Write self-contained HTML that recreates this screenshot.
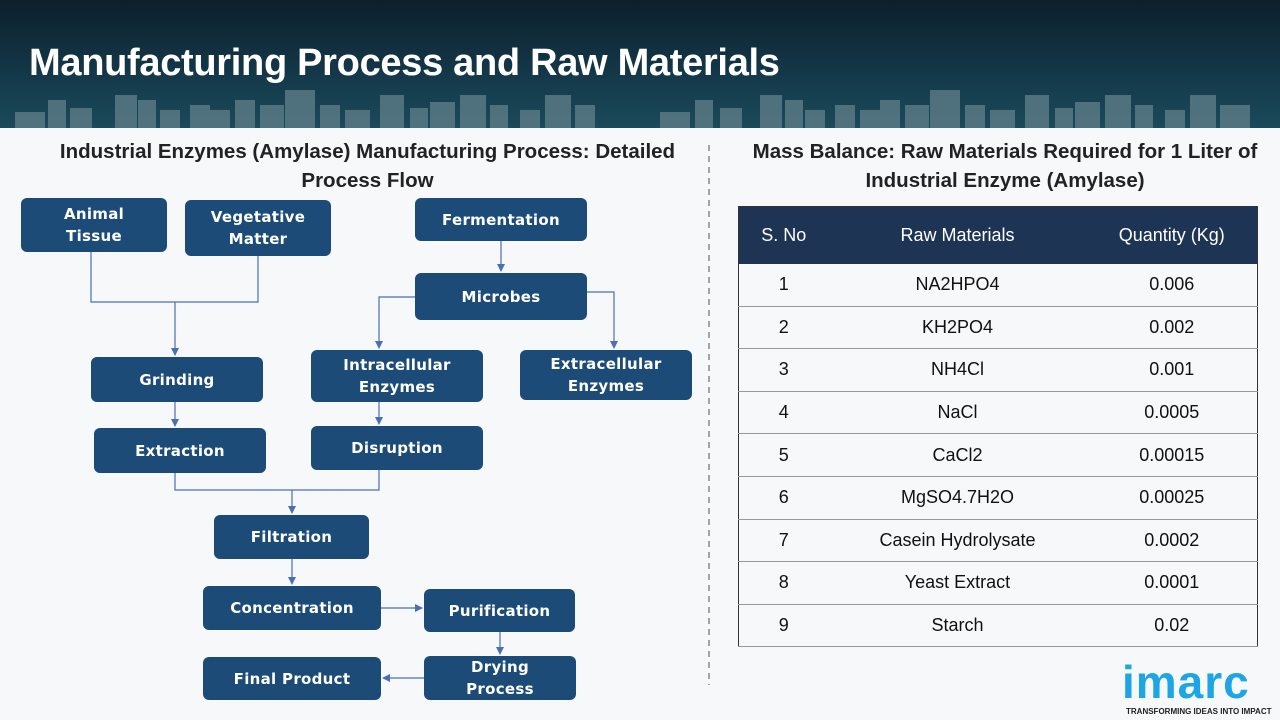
<!DOCTYPE html>
<html><head><meta charset="utf-8"><style>
*{margin:0;padding:0;box-sizing:border-box}
body{width:1280px;height:720px;position:relative;overflow:hidden;background:#f6f8fa;font-family:"Liberation Sans",sans-serif}
.hdr{position:absolute;left:0;top:0;width:1280px;height:128px;background:linear-gradient(180deg,#0d1f2b 0%,#14394a 60%,#1b4a5a 100%)}
.hdr h1{position:absolute;left:29px;top:42px;color:#fff;font-size:38px;font-weight:bold;letter-spacing:-0.3px}
.n{position:absolute;background:#1d4b78;color:#fff;border-radius:6px;font-weight:bold;display:flex;align-items:center;justify-content:center;text-align:center;line-height:22px;letter-spacing:0.3px;font-family:"DejaVu Sans","Liberation Sans",sans-serif;font-size:15px}
.st{position:absolute;text-align:center;font-weight:bold;font-size:20.5px;color:#222;line-height:29px}
table{position:absolute;left:738px;top:206px;width:520px;border-collapse:collapse;font-size:18px;color:#111}
th{background:#1d3454;color:#fff;font-weight:normal;height:57px;font-size:18px}
td{height:42.6px;text-align:center;border-bottom:1px solid #999}
table{border:1px solid #333}
</style></head><body>
<div class="hdr">
<svg width="1280" height="128" style="position:absolute;left:0;top:0" fill="#5d7d88" opacity="0.8">
<rect x="15" y="112" width="30" height="16"/><rect x="48" y="100" width="18" height="28"/><rect x="70" y="108" width="22" height="20"/><rect x="115" y="95" width="22" height="33"/><rect x="138" y="100" width="18" height="28"/><rect x="160" y="110" width="20" height="18"/><rect x="190" y="105" width="20" height="23"/><rect x="208" y="110" width="22" height="18"/><rect x="235" y="100" width="20" height="28"/><rect x="260" y="105" width="24" height="23"/><rect x="285" y="90" width="30" height="38"/><rect x="320" y="105" width="20" height="23"/><rect x="345" y="110" width="25" height="18"/><rect x="380" y="95" width="24" height="33"/><rect x="410" y="108" width="18" height="20"/><rect x="430" y="102" width="25" height="26"/><rect x="460" y="95" width="26" height="33"/><rect x="490" y="105" width="18" height="23"/><rect x="520" y="110" width="20" height="18"/><rect x="545" y="95" width="26" height="33"/><rect x="575" y="105" width="20" height="23"/>
<rect x="660" y="112" width="30" height="16"/><rect x="695" y="100" width="18" height="28"/><rect x="720" y="108" width="22" height="20"/><rect x="760" y="95" width="22" height="33"/><rect x="785" y="100" width="18" height="28"/><rect x="805" y="110" width="20" height="18"/><rect x="835" y="105" width="20" height="23"/><rect x="860" y="110" width="22" height="18"/><rect x="880" y="100" width="20" height="28"/><rect x="905" y="105" width="24" height="23"/><rect x="930" y="90" width="30" height="38"/><rect x="965" y="105" width="20" height="23"/><rect x="990" y="110" width="25" height="18"/><rect x="1025" y="95" width="24" height="33"/><rect x="1055" y="108" width="18" height="20"/><rect x="1075" y="102" width="25" height="26"/><rect x="1105" y="95" width="26" height="33"/><rect x="1135" y="105" width="18" height="23"/><rect x="1165" y="110" width="20" height="18"/><rect x="1190" y="95" width="26" height="33"/><rect x="1220" y="105" width="30" height="23"/>
</svg>
<h1>Manufacturing Process and Raw Materials</h1>
</div>
<div class="st" style="left:30px;top:137px;width:675px">Industrial Enzymes (Amylase) Manufacturing Process: Detailed<br>Process Flow</div>
<div class="st" style="left:730px;top:137px;width:550px">Mass Balance: Raw Materials Required for 1 Liter of<br>Industrial Enzyme (Amylase)</div>
<svg width="1280" height="720" style="position:absolute;left:0;top:0">
<defs><marker id="a" markerWidth="8" markerHeight="8" refX="7" refY="4" orient="auto" markerUnits="userSpaceOnUse"><path d="M0,0L8,4L0,8z" fill="#4a6fb5"/></marker></defs>
<g stroke="#4a6fb5" stroke-width="1.2" fill="none">
<path d="M91,252V302H258V256"/><path d="M175,302V355" marker-end="url(#a)"/>
<path d="M501,241V271" marker-end="url(#a)"/>
<path d="M415,297H379V348" marker-end="url(#a)"/>
<path d="M587,292H614V348" marker-end="url(#a)"/>
<path d="M175,402V426" marker-end="url(#a)"/>
<path d="M379,402V424" marker-end="url(#a)"/>
<path d="M175,473V490H379V470"/><path d="M292,490V513" marker-end="url(#a)"/>
<path d="M292,559V584" marker-end="url(#a)"/>
<path d="M381,608H422" marker-end="url(#a)"/>
<path d="M500,632V654" marker-end="url(#a)"/>
<path d="M424,678H383" marker-end="url(#a)"/>
</g>
<path d="M709,145V685" stroke="#888" stroke-width="1.5" stroke-dasharray="6,5"/>
</svg>
<div class="n" style="left:21px;top:198px;width:146px;height:54px">Animal<br>Tissue</div>
<div class="n" style="left:185px;top:200px;width:146px;height:56px">Vegetative<br>Matter</div>
<div class="n" style="left:415px;top:198px;width:172px;height:43px">Fermentation</div>
<div class="n" style="left:415px;top:273px;width:172px;height:47px">Microbes</div>
<div class="n" style="left:91px;top:357px;width:172px;height:45px">Grinding</div>
<div class="n" style="left:311px;top:350px;width:172px;height:52px">Intracellular<br>Enzymes</div>
<div class="n" style="left:520px;top:350px;width:172px;height:50px">Extracellular<br>Enzymes</div>
<div class="n" style="left:94px;top:428px;width:172px;height:45px">Extraction</div>
<div class="n" style="left:311px;top:426px;width:172px;height:44px">Disruption</div>
<div class="n" style="left:214px;top:515px;width:155px;height:44px">Filtration</div>
<div class="n" style="left:203px;top:586px;width:178px;height:44px">Concentration</div>
<div class="n" style="left:424px;top:589px;width:151px;height:43px">Purification</div>
<div class="n" style="left:203px;top:657px;width:178px;height:43px">Final Product</div>
<div class="n" style="left:424px;top:656px;width:152px;height:44px">Drying<br>Process</div>
<table>
<tr><th style="width:90px">S. No</th><th style="width:258px">Raw Materials</th><th>Quantity (Kg)</th></tr>
<tr><td>1</td><td>NA2HPO4</td><td>0.006</td></tr>
<tr><td>2</td><td>KH2PO4</td><td>0.002</td></tr>
<tr><td>3</td><td>NH4Cl</td><td>0.001</td></tr>
<tr><td>4</td><td>NaCl</td><td>0.0005</td></tr>
<tr><td>5</td><td>CaCl2</td><td>0.00015</td></tr>
<tr><td>6</td><td>MgSO4.7H2O</td><td>0.00025</td></tr>
<tr><td>7</td><td>Casein Hydrolysate</td><td>0.0002</td></tr>
<tr><td>8</td><td>Yeast Extract</td><td>0.0001</td></tr>
<tr><td>9</td><td>Starch</td><td>0.02</td></tr>
</table>
<div style="position:absolute;left:1122px;top:654px;font-size:46px;font-weight:bold;color:#1ea5e6;letter-spacing:1px;line-height:56px">imarc</div>
<div style="position:absolute;left:1126px;top:707px;font-size:8px;font-weight:bold;color:#222">TRANSFORMING IDEAS INTO IMPACT</div>
</body></html>
